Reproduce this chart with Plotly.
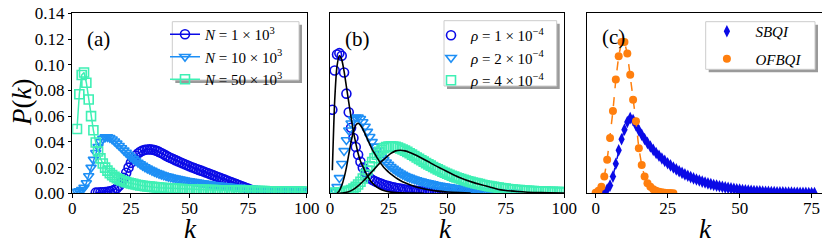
import plotly.graph_objects as go

# ---------------- data ----------------
# panel (a)
K_N1_START = 10
P_N1 = [0.0005,0.0006,0.0007,0.0008,0.0010,0.0012,0.0015,0.0020,0.0028,0.0040,
        0.0058,0.0085,0.0120,0.0160,0.0200,0.0237,0.0268,0.0292,0.0310,0.0323,
        0.0332,0.0338,0.0341,0.0342,0.0340,0.0336,0.0330,0.0322,0.0313,0.0303,
        0.0293,0.0283,0.0274,0.0266,0.0258,0.0250,0.0242,0.0234,0.0226,0.0218,
        0.0210,0.0203,0.0196,0.0189,0.0182,0.0176,0.0169,0.0162,0.0155,0.0148,
        0.0141,0.0134,0.0127,0.0120,0.0113,0.0106,0.0099,0.0092,0.0085,0.0078,
        0.0071,0.0064,0.0057,0.0050,0.0043,0.0036,0.0029,0.0022,0.0016,0.0011,
        0.0007]
K_N10_START = 1
P_N10 = [0.0010,0.0013,0.0018,0.0027,0.0045,0.0080,0.0135,0.0200,0.0262,0.0315,
         0.0362,0.0400,0.0425,0.0437,0.0438,0.0432,0.0420,0.0405,0.0388,0.0370,
         0.0352,0.0334,0.0316,0.0299,0.0283,0.0268,0.0254,0.0240,0.0227,0.0215,
         0.0204,0.0194,0.0185,0.0176,0.0168,0.0160,0.0153,0.0146,0.0140,0.0135,
         0.0130,0.0125,0.0121,0.0117,0.0113,0.0109,0.0105,0.0101,0.0098,0.0095,
         0.0092,0.0089,0.0086,0.0083,0.0080,0.0077,0.0075,0.0072,0.0070,0.0067,
         0.0065,0.0063,0.0061,0.0059,0.0057,0.0055,0.0053,0.0051,0.0049,0.0047,
         0.0045,0.0044,0.0042,0.0041,0.0039,0.0038,0.0037,0.0035,0.0034,0.0033,
         0.0032,0.0031,0.0030,0.0029,0.0028,0.0028,0.0027,0.0026,0.0026,0.0025,
         0.0025,0.0024,0.0024,0.0023,0.0023,0.0022,0.0022,0.0022,0.0021,0.0021]
K_N50_START = 2
P_N50 = [0.0500,0.0770,0.0920,0.0940,0.0860,0.0730,0.0600,0.0490,0.0395,0.0325,
         0.0272,0.0232,0.0200,0.0176,0.0157,0.0141,0.0128,0.0117,0.0108,0.0100,
         0.0093,0.0087,0.0082,0.0077,0.0073,0.0069,0.0065,0.0062,0.0059,0.0056,
         0.0054,0.0052,0.0050,0.0048,0.0046,0.0044,0.0043,0.0041,0.0040,0.0039,
         0.0038,0.0037,0.0036,0.0035,0.0034,0.0033,0.0032,0.0032,0.0031,0.0030,
         0.0030,0.0029,0.0028,0.0028,0.0027,0.0027,0.0026,0.0026,0.0025,0.0025,
         0.0024,0.0024,0.0023,0.0023,0.0022,0.0022,0.0022,0.0021,0.0021,0.0020,
         0.0020,0.0020,0.0019,0.0019,0.0019,0.0018,0.0018,0.0018,0.0017,0.0017,
         0.0017,0.0016,0.0016,0.0016,0.0016,0.0015,0.0015,0.0015,0.0015,0.0014,
         0.0014,0.0014,0.0014,0.0013,0.0013,0.0013,0.0013,0.0012,0.0012]
LEG_A = ["<i>N</i> = 1 × 10<sup>3</sup>", "<i>N</i> = 10 × 10<sup>3</sup>", "<i>N</i> = 50 × 10<sup>3</sup>"]

# panel (b)
K_R1_START = 1
P_R1 = [0.0650,0.0955,0.1080,0.1090,0.1070,0.0940,0.0775,0.0630,0.0510,0.0430,
        0.0360,0.0300,0.0245,0.0200,0.0165,0.0137,0.0118,0.0105,0.0095,0.0088,
        0.0080,0.0073,0.0067,0.0061,0.0056,0.0051,0.0047,0.0043,0.0039,0.0036,
        0.0033,0.0030,0.0027,0.0025,0.0023,0.0021,0.0019,0.0017,0.0015,0.0014,
        0.0012,0.0011,0.0010,0.0009,0.0008,0.0007,0.0007,0.0006,0.0006,0.0005,
        0.0005,0.0004,0.0004,0.0004,0.0003,0.0003,0.0003,0.0002,0.0002,0.0002,
        0.0001,0.0001]
K_R2_START = 1
P_R2 = [0.0010,0.0020,0.0050,0.0120,0.0230,0.0330,0.0415,0.0490,0.0545,0.0575,
        0.0590,0.0592,0.0580,0.0555,0.0520,0.0480,0.0440,0.0400,0.0365,0.0335,
        0.0308,0.0283,0.0261,0.0241,0.0223,0.0207,0.0192,0.0179,0.0167,0.0156,
        0.0146,0.0137,0.0129,0.0122,0.0115,0.0109,0.0103,0.0098,0.0093,0.0088,
        0.0083,0.0079,0.0075,0.0071,0.0067,0.0063,0.0060,0.0057,0.0054,0.0051,
        0.0048,0.0045,0.0043,0.0040,0.0038,0.0036,0.0034,0.0032,0.0030,0.0028,
        0.0026,0.0024,0.0022,0.0021,0.0019,0.0018,0.0016,0.0015,0.0014,0.0013,
        0.0012,0.0011,0.0010,0.0009,0.0008,0.0007,0.0006,0.0005,0.0004,0.0003]
K_R4_START = 1
P_R4 = [0.0002,0.0003,0.0004,0.0005,0.0007,0.0010,0.0014,0.0019,0.0026,0.0036,
        0.0050,0.0068,0.0090,0.0115,0.0145,0.0177,0.0210,0.0243,0.0273,0.0300,
        0.0322,0.0339,0.0351,0.0359,0.0363,0.0365,0.0364,0.0361,0.0356,0.0349,
        0.0341,0.0332,0.0322,0.0312,0.0301,0.0290,0.0279,0.0268,0.0257,0.0246,
        0.0235,0.0225,0.0215,0.0205,0.0195,0.0186,0.0177,0.0168,0.0160,0.0152,
        0.0144,0.0137,0.0130,0.0123,0.0117,0.0111,0.0105,0.0099,0.0094,0.0089,
        0.0084,0.0079,0.0075,0.0071,0.0067,0.0063,0.0059,0.0056,0.0053,0.0050,
        0.0047,0.0044,0.0041,0.0039,0.0036,0.0034,0.0032,0.0030,0.0028,0.0026,
        0.0025,0.0023,0.0022,0.0020,0.0019,0.0018,0.0017,0.0016,0.0015,0.0014,
        0.0013,0.0013,0.0012,0.0011,0.0011,0.0010,0.0010,0.0009,0.0009,0.0008]
K_F1 = [1,2,3,4,5,6,7,8,9,10,11,12,13,14,15,16,17,18,19,20,22,24,26,28,30,35,40]
P_F1 = [0.018,0.072,0.099,0.107,0.104,0.095,0.083,0.071,0.059,0.048,0.039,0.031,0.025,0.021,
        0.017,0.0135,0.0105,0.0082,0.0063,0.0048,0.0028,0.0016,0.0009,0.0005,0.0003,0.0001,0.0]
K_F2 = [3,4,5,6,7,8,9,10,11,12,13,14,15,16,17,18,19,20,21,22,23,24,25,26,28,30,32,35,38,40,42,45,50,55,60]
P_F2 = [0.000,0.002,0.006,0.012,0.020,0.030,0.040,0.048,0.053,0.0545,0.053,0.050,0.046,0.042,
        0.038,0.034,0.031,0.028,0.025,0.0225,0.020,0.0182,0.0165,0.0150,0.0122,0.0100,0.0082,
        0.0060,0.0043,0.0035,0.0027,0.0019,0.0010,0.0005,0.0002]
K_F3 = [4,6,8,10,12,14,16,18,20,22,24,26,28,30,32,34,36,38,40,42,45,48,51,55,61,65,72,80,90,100]
P_F3 = [0.0000,0.0004,0.0013,0.0030,0.0058,0.0092,0.0130,0.0170,0.0210,0.0248,0.0280,0.0310,
        0.0330,0.0335,0.0330,0.0318,0.0302,0.0284,0.0265,0.0245,0.0215,0.0188,0.0160,0.0125,
        0.0085,0.0065,0.0030,0.0014,0.0005,0.0002]
LEG_B = ["<i>ρ</i> = 1 × 10<sup>−4</sup>", "<i>ρ</i> = 2 × 10<sup>−4</sup>", "<i>ρ</i> = 4 × 10<sup>−4</sup>"]

# panel (c)
K_SB_START = 3
P_SB = [0.0010,0.0030,0.0060,0.0130,0.0230,0.0335,0.0420,0.0495,0.0555,0.0585,
        0.0570,0.0530,0.0490,0.0455,0.0422,0.0392,0.0364,0.0338,0.0314,0.0292,
        0.0271,0.0252,0.0234,0.0217,0.0201,0.0186,0.0172,0.0159,0.0147,0.0136,
        0.0126,0.0116,0.0107,0.0099,0.0091,0.0084,0.0077,0.0071,0.0065,0.0060,
        0.0055,0.0050,0.0046,0.0042,0.0038,0.0035,0.0032,0.0029,0.0026,0.0024,
        0.0022,0.0020,0.0018,0.0016,0.0015,0.0013,0.0012,0.0011,0.0010,0.0009,
        0.0008,0.0007,0.0007,0.0006,0.0005,0.0005,0.0004,0.0004,0.0003,0.0003,
        0.0003,0.0002,0.0002,0.0002]
K_OF_START = 0
P_OF = [0.0005,0.0020,0.0050,0.0130,0.0260,0.0430,0.0640,0.0885,0.1066,0.1176,
        0.1176,0.1087,0.0923,0.0728,0.0560,0.0350,0.0220,0.0130,0.0078,0.0050,
        0.0032,0.0020,0.0013,0.0008,0.0005,0.0003,0.0002,0.0001]
LEG_C = ["<i>SBQI</i>", "<i>OFBQI</i>"]

Y_TICKS = [0.00, 0.02, 0.04, 0.06, 0.08, 0.10, 0.12, 0.14]
X_TICKS_AB = [0, 25, 50, 75, 100]
X_TICKS_C = [0, 25, 50, 75]

# ---------------- style ----------------
C1, C2, C3 = "#0a0ae6", "#1e8ff5", "#3ef0b4"
C_OR = "#ff7f0e"
FONT = "Liberation Serif"
# the page body has an 8 px margin; the figure is sized to fill the window
OFF = 8
W, H = 830 - 2 * OFF, 251 - 2 * OFF


def px_x(p):  # screen pixel -> paper x
    return (p - OFF) / W


def px_y(p):  # screen pixel -> paper y
    return 1 - (p - OFF) / H


def ks(start, vals):
    return list(range(start, start + len(vals)))


fig = go.Figure()

# panel (a)
for start, vals, col, sym, sz, name in [
    (K_N1_START, P_N1, C1, "circle-open", 9, LEG_A[0]),
    (K_N10_START, P_N10, C2, "triangle-down-open", 9, LEG_A[1]),
    (K_N50_START, P_N50, C3, "square-open", 9, LEG_A[2]),
]:
    fig.add_trace(go.Scatter(x=ks(start, vals), y=vals, mode="lines+markers", name=name,
                             line=dict(color=col, width=1.5),
                             marker=dict(symbol=sym, size=sz, color=col, line=dict(width=1.6, color=col)),
                             xaxis="x", yaxis="y", legend="legend"))

# panel (b)
for start, vals, col, sym, sz, name in [
    (K_R1_START, P_R1, C1, "circle-open", 9, LEG_B[0]),
    (K_R2_START, P_R2, C2, "triangle-down-open", 9, LEG_B[1]),
    (K_R4_START, P_R4, C3, "square-open", 9, LEG_B[2]),
]:
    fig.add_trace(go.Scatter(x=ks(start, vals), y=vals, mode="markers", name=name,
                             marker=dict(symbol=sym, size=sz, color=col, line=dict(width=1.6, color=col)),
                             xaxis="x2", yaxis="y2", legend="legend2"))
for kk, pp in [(K_F1, P_F1), (K_F2, P_F2), (K_F3, P_F3)]:
    fig.add_trace(go.Scatter(x=kk, y=pp, mode="lines",
                             line=dict(color="black", width=1.6, shape="spline", smoothing=0.6),
                             showlegend=False, xaxis="x2", yaxis="y2", hoverinfo="skip"))

# panel (c)
fig.add_trace(go.Scatter(x=ks(K_SB_START, P_SB), y=P_SB, mode="lines+markers",
                         line=dict(color=C1, width=1.5, dash="dash"),
                         marker=dict(symbol="diamond-tall", size=9, color=C1),
                         showlegend=False, xaxis="x3", yaxis="y3"))
fig.add_trace(go.Scatter(x=ks(K_OF_START, P_OF), y=P_OF, mode="lines+markers",
                         line=dict(color=C_OR, width=1.5, dash="dash"),
                         marker=dict(symbol="circle", size=8, color=C_OR),
                         showlegend=False, xaxis="x3", yaxis="y3"))
fig.add_trace(go.Scatter(x=[None], y=[None], mode="markers", name=LEG_C[0], legendgroup="sb",
                         marker=dict(symbol="diamond-tall", size=9, color=C1),
                         xaxis="x3", yaxis="y3", legend="legend3"))
fig.add_trace(go.Scatter(x=[None], y=[None], mode="markers", name=LEG_C[1], legendgroup="of",
                         marker=dict(symbol="circle", size=8, color=C_OR),
                         xaxis="x3", yaxis="y3", legend="legend3"))

# ---------------- layout ----------------
XD = [(72.3, 306.7), (330.0, 564.3), (587.3, 821.7)]
YD = [px_y(193.3), px_y(13.3)]

axis_common = dict(showline=True, mirror=True, linecolor="black", linewidth=1, showgrid=False,
                   zeroline=False, ticks="outside", ticklen=3.5, tickwidth=1, tickcolor="black",
                   tickfont=dict(family=FONT, size=17, color="black"), automargin=False,
                   ticklabeloverflow="allow")

layout = dict(width=W, height=H, margin=dict(l=0, r=0, t=0, b=0),
              paper_bgcolor="white", plot_bgcolor="white", template="none",
              font=dict(family=FONT, color="black"))
layout["xaxis"] = dict(axis_common, domain=[px_x(XD[0][0]), px_x(XD[0][1])], range=[0, 100],
                       tickvals=X_TICKS_AB, anchor="y", ticklabelstandoff=-4)
layout["xaxis2"] = dict(axis_common, domain=[px_x(XD[1][0]), px_x(XD[1][1])], range=[0, 100],
                        tickvals=X_TICKS_AB, anchor="y2", ticklabelstandoff=-4)
layout["xaxis3"] = dict(axis_common, domain=[px_x(XD[2][0]), px_x(XD[2][1])], range=[-2.9, 78.5],
                        tickvals=X_TICKS_C, anchor="y3", ticklabelstandoff=-4)
layout["yaxis"] = dict(axis_common, domain=YD, range=[0, 0.14], tickvals=Y_TICKS,
                       ticktext=[f"{v:.2f}" for v in Y_TICKS], anchor="x")
layout["yaxis2"] = dict(axis_common, domain=YD, range=[0, 0.14], ticks="", showticklabels=False, anchor="x2")
layout["yaxis3"] = dict(axis_common, domain=YD, range=[0, 0.14], ticks="", showticklabels=False, anchor="x3")

leg_common = dict(bgcolor="rgba(0,0,0,0)", borderwidth=0,
                  font=dict(family=FONT, size=15, color="black"),
                  xanchor="left", yanchor="top", tracegroupgap=0)
layout["legend"] = dict(leg_common, x=px_x(165), y=px_y(18))
layout["legend2"] = dict(leg_common, x=px_x(431), y=px_y(19))
layout["legend3"] = dict(leg_common, x=px_x(698.4), y=px_y(15), itemwidth=47, tracegroupgap=5)

fig.update_layout(**layout)

# legend frames (shadow + white box) drawn to the reference's geometry
for (x0, y0, x1, y1) in [(172.3, 21.7, 299, 80), (444, 20.7, 556.7, 86), (705.7, 21.7, 815, 69.3)]:
    fig.add_shape(type="rect", xref="paper", yref="paper",
                  x0=px_x(x0 + 3), x1=px_x(x1 + 3), y0=px_y(y1 + 3), y1=px_y(y0 + 3),
                  fillcolor="#9a9a9a", line=dict(width=0), layer="above")
    fig.add_shape(type="rect", xref="paper", yref="paper",
                  x0=px_x(x0), x1=px_x(x1), y0=px_y(y1), y1=px_y(y0),
                  fillcolor="white", line=dict(width=1, color="#cccccc"), layer="above")

# panel labels and axis titles
for txt, cx, cy in [("(a)", 98.5, 38.5), ("(b)", 357.5, 38.5), ("(c)", 613, 37)]:
    fig.add_annotation(text=txt, x=px_x(cx), y=px_y(cy), xref="paper", yref="paper",
                       xanchor="center", yanchor="middle",
                       showarrow=False, font=dict(family=FONT, size=21, color="black"))
for cx in [190, 446, 705]:
    fig.add_annotation(text="<i>k</i>", x=px_x(cx), y=px_y(229), xref="paper", yref="paper",
                       xanchor="center", yanchor="middle",
                       showarrow=False, font=dict(family=FONT, size=27, color="black"))
fig.add_annotation(text="<i>P</i>(<i>k</i>)", x=px_x(22), y=px_y(103), xref="paper", yref="paper",
                   xanchor="center", yanchor="middle",
                   showarrow=False, textangle=-90, font=dict(family=FONT, size=27, color="black"))

fig.write_html("out.html")
